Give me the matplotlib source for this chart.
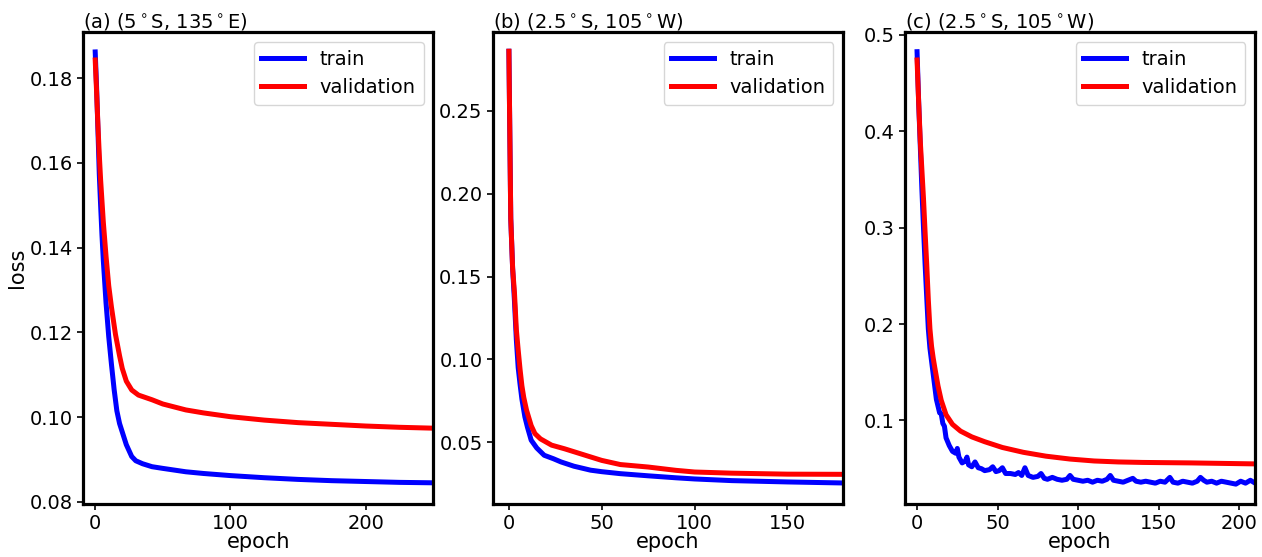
import numpy as np
import matplotlib
matplotlib.use("Agg")
import matplotlib.pyplot as plt

# panel (a) (5S, 135E)
a_epoch_train = [0, 1, 2, 3, 4, 5, 6, 8, 10, 12, 14, 16, 18, 20, 23, 27, 30, 35, 42,
                 50, 67, 80, 100, 125, 150, 175, 200, 225, 249]
a_train = [0.1862, 0.178, 0.168, 0.1575, 0.150, 0.143, 0.137, 0.127, 0.119, 0.1125, 0.1065,
           0.1015, 0.0985, 0.0965, 0.0935, 0.0907, 0.0897, 0.0890, 0.0883,
           0.0879, 0.0871, 0.0867, 0.0862, 0.0857, 0.0853, 0.0850, 0.0848, 0.0846, 0.0845]
a_epoch_val = [0, 1, 2, 3, 4, 5, 6, 8, 10, 12, 15, 18, 20, 23, 27, 32, 42,
               50, 67, 80, 100, 125, 150, 175, 200, 225, 249]
a_val = [0.1843, 0.177, 0.169, 0.162, 0.156, 0.151, 0.146, 0.138, 0.131, 0.126, 0.1195,
         0.1145, 0.1115, 0.1085, 0.1064, 0.1052, 0.1041,
         0.1031, 0.1017, 0.1010, 0.1001, 0.0993, 0.0987, 0.0983, 0.0979, 0.0976, 0.0974]

# panel (b) (2.5S, 105W)
b_epoch_train = [0, 1, 2, 3, 4, 5, 6, 7, 8.6, 10, 12, 15, 19, 24, 28, 35, 44, 50, 60, 75, 90,
                 100, 120, 150, 179]
b_train = [0.286, 0.185, 0.155, 0.135, 0.112, 0.095, 0.085, 0.076, 0.0653, 0.059, 0.0512,
           0.0465, 0.0421, 0.040, 0.0381, 0.0355, 0.0331, 0.0322, 0.031, 0.0297, 0.0285,
           0.0278, 0.0268, 0.0260, 0.0254]
b_epoch_val = [0, 1, 2, 3, 4, 5, 6, 7, 8, 9.5, 12, 14, 17, 23, 30, 44, 50, 60, 75, 90,
               100, 120, 150, 179]
b_val = [0.286, 0.185, 0.155, 0.14, 0.118, 0.1056, 0.094, 0.084, 0.077, 0.0693, 0.060,
         0.0552, 0.052, 0.0482, 0.046, 0.0411, 0.039, 0.0365, 0.035, 0.033,
         0.032, 0.0313, 0.0307, 0.0306]

# panel (c) (2.5S, 105W)
c_epoch_train = [0, 1, 2, 3, 4, 5, 6, 7, 8, 10, 12, 14, 15, 16, 17, 18, 20, 22, 24, 25, 26,
                 28, 30, 31, 32, 34, 36, 38, 40, 42, 45, 47, 49, 51, 53, 55, 58, 61, 63, 65,
                 67, 69, 72, 75, 77, 79, 81, 84, 87, 90, 93, 95, 97, 100, 103, 106, 109, 112,
                 115, 118, 120, 122, 125, 128, 131, 134, 136, 139, 142, 145, 148, 151, 154,
                 157, 159, 162, 165, 168, 171, 174, 176, 178, 180, 183, 186, 189, 192, 195,
                 198, 201, 204, 207, 209]
c_train = [0.4826, 0.43, 0.385, 0.34, 0.30, 0.262, 0.228, 0.195, 0.175, 0.1485, 0.122,
           0.108, 0.107, 0.097, 0.094, 0.082, 0.074, 0.068, 0.066, 0.071, 0.062, 0.056,
           0.058, 0.062, 0.054, 0.052, 0.057, 0.051, 0.050, 0.048, 0.049, 0.052, 0.047,
           0.048, 0.051, 0.045, 0.045, 0.044, 0.046, 0.043, 0.051, 0.043, 0.041, 0.042,
           0.045, 0.040, 0.039, 0.041, 0.039, 0.038, 0.039, 0.043, 0.039, 0.038, 0.037,
           0.038, 0.036, 0.038, 0.037, 0.039, 0.043, 0.038, 0.037, 0.036, 0.038, 0.040,
           0.037, 0.036, 0.037, 0.036, 0.035, 0.037, 0.036, 0.041, 0.036, 0.035, 0.037,
           0.036, 0.035, 0.037, 0.041, 0.038, 0.036, 0.037, 0.035, 0.037, 0.036, 0.035,
           0.034, 0.037, 0.035, 0.038, 0.036]
c_epoch_val = [0, 1, 2, 3, 4, 5, 6, 7, 8, 9, 10, 11, 13, 15, 18, 22, 27, 34, 42, 53, 66, 80,
               95, 110, 125, 140, 170, 209]
c_val = [0.474, 0.43, 0.39, 0.36, 0.33, 0.295, 0.262, 0.225, 0.195, 0.177, 0.165, 0.155,
         0.136, 0.121, 0.106, 0.096, 0.089, 0.083, 0.078, 0.072, 0.067, 0.063, 0.060,
         0.058, 0.057, 0.0565, 0.056, 0.055]

titles = [r"(a) (5$^\circ$S, 135$^\circ$E)",
          r"(b) (2.5$^\circ$S, 105$^\circ$W)",
          r"(c) (2.5$^\circ$S, 105$^\circ$W)"]

panels = [
    (a_epoch_train, a_train, a_epoch_val, a_val, (-9, 250), (0.0795, 0.1909), [0, 100, 200]),
    (b_epoch_train, b_train, b_epoch_val, b_val, (-8.6, 180), (0.0127, 0.2976),
     [0, 50, 100, 150]),
    (c_epoch_train, c_train, c_epoch_val, c_val, (-7.5, 210), (0.0134, 0.503),
     [0, 50, 100, 150, 200]),
]

lefts = [0.0658, 0.3906, 0.7171]
width = 0.2775

fig = plt.figure(figsize=(12.62, 5.57), dpi=100)
for i, (et, tr, ev, va, xl, yl, xt) in enumerate(panels):
    ax = fig.add_axes([lefts[i], 0.0952, width, 0.8473])
    ax.plot(et, tr, color="blue", lw=3.6, label="train")
    ax.plot(ev, va, color="red", lw=3.6, label="validation")
    ax.set_xlim(*xl)
    ax.set_ylim(*yl)
    ax.set_xticks(xt)
    ax.tick_params(labelsize=14, width=1.2, length=4)
    for name in ax.spines:
        ax.spines[name].set_linewidth(2.3)
    ax.set_xlabel("epoch", fontsize=15, labelpad=-1)
    if i == 0:
        ax.set_ylabel("loss", fontsize=15, labelpad=2)
    ax.set_title(titles[i], loc="left", fontsize=14, pad=3)
    ax.legend(loc="upper right", fontsize=14, handlelength=2.2)

fig.savefig("out.png", dpi=100)
